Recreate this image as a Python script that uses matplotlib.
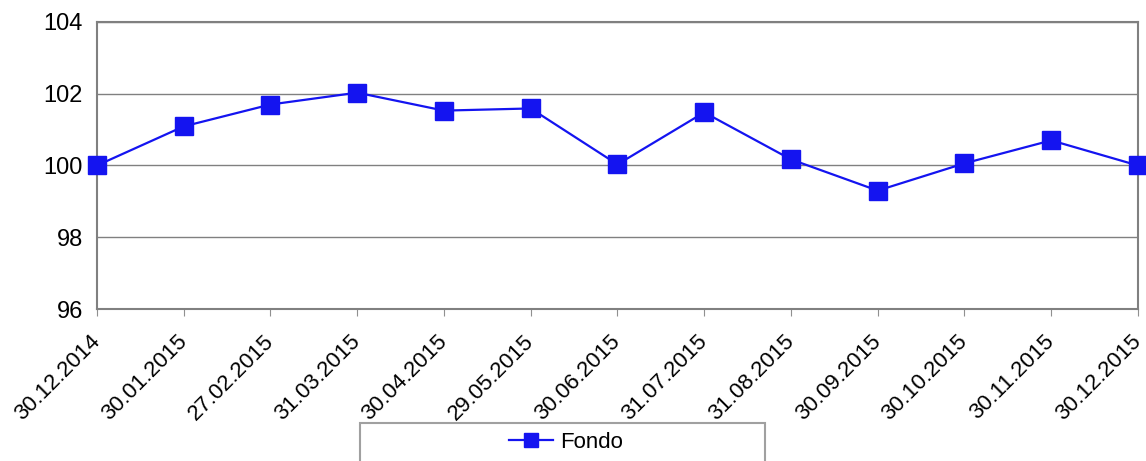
import matplotlib
matplotlib.use('Agg')
import matplotlib.pyplot as plt
from matplotlib.patches import Rectangle

dates = ["30.12.2014", "30.01.2015", "27.02.2015", "31.03.2015", "30.04.2015",
         "29.05.2015", "30.06.2015", "31.07.2015", "31.08.2015", "30.09.2015",
         "30.10.2015", "30.11.2015", "30.12.2015"]
fondo = [100.0, 101.09, 101.70, 102.03, 101.53, 101.59, 100.03,
         101.48, 100.17, 99.30, 100.06, 100.70, 100.0]
y_ticks = [96, 98, 100, 102, 104]

plt.rcParams['font.family'] = ['Liberation Sans', 'DejaVu Sans']
fig = plt.figure(figsize=(11.46, 4.61), dpi=100)
ax = fig.add_axes([0.0846, 0.3297, 0.9084, 0.6226])

line_col = '#1414f0'
x = list(range(len(dates)))
ax.plot(x, fondo, color=line_col, linewidth=1.6, marker='s', markersize=12.5,
        markerfacecolor=line_col, markeredgecolor=line_col, label='Fondo',
        clip_on=False, zorder=3)

ax.set_xlim(0, len(dates) - 1)
ax.set_ylim(96, 104)
ax.set_yticks(y_ticks)
ax.set_xticks(x)
ax.set_xticklabels(dates, rotation=45, ha='right', va='center',
                   rotation_mode='anchor', fontsize=16)
ax.tick_params(axis='x', direction='out', length=5, color='#909090', pad=16)
ax.tick_params(axis='y', length=0, labelsize=17, pad=10)
ax.yaxis.grid(True, color='#808080', linewidth=1.0)
for s in ax.spines.values():
    s.set_color('#808080')
    s.set_linewidth(1.5)

# legend box at the bottom, running off the lower edge
fig.patches.append(Rectangle((360 / 1146, -0.05), 405 / 1146, 0.05 + 38 / 461,
                             transform=fig.transFigure, facecolor='white',
                             edgecolor='#a0a0a0', linewidth=1.5))
fig.legend(loc='center', bbox_to_anchor=(566 / 1146, 1 - 442 / 461), frameon=False,
           fontsize=16, handlelength=2.0, handletextpad=0.3, markerscale=0.85)

fig.savefig('out.png', dpi=100)
